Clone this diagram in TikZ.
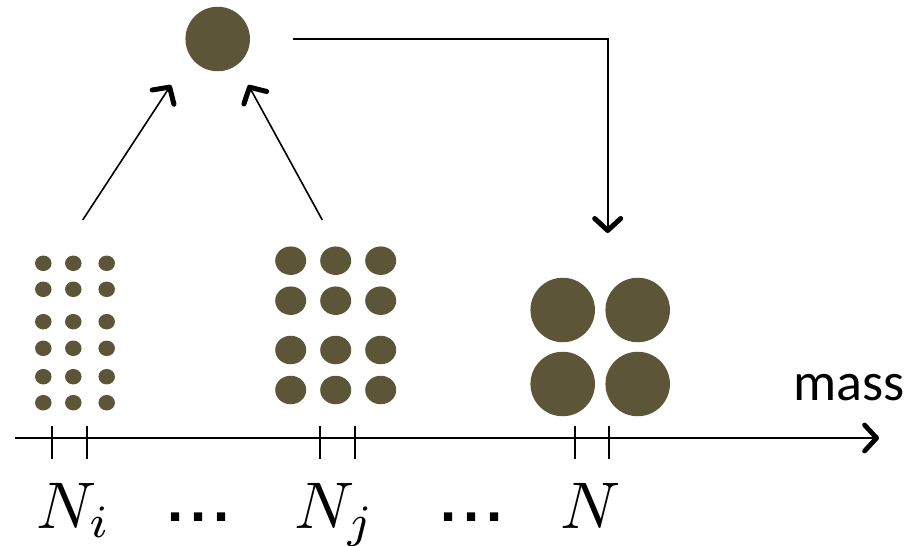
\documentclass[tikz,border=0pt]{standalone}
\usepackage{graphicx}
\usepackage{fontspec}
\setsansfont{Carlito}
\newfontfamily\dotfont{Liberation Sans}
\usetikzlibrary{arrows.meta,shapes.geometric}
\definecolor{olive}{RGB}{93,85,56}
\tikzset{
  dotS/.style={ellipse,fill=olive,inner sep=0pt,minimum width=16.5pt,minimum height=15.5pt},
  dotM/.style={ellipse,fill=olive,inner sep=0pt,minimum width=31pt,minimum height=28.5pt},
  dotL/.style={circle,fill=olive,inner sep=0pt,minimum size=64.5pt},
  conn/.style={line width=1.6pt,-{Straight Barb[length=12pt,width=26pt,line width=5pt,round]}},
  tick/.style={line width=1.5pt},
  lab/.style={inner sep=0pt},
  ell/.style={inner sep=0pt,font=\dotfont\bfseries\fontsize{58}{60}\selectfont},
}
\begin{document}
\begin{tikzpicture}[x=1pt,y=-1pt]
\useasboundingbox (0,0) rectangle (913,546);
% top circle
\node[dotL] (top) at (217.7,39) {};
% left group
\foreach \c/\x in {1/43.3,2/73.3,3/106.7}{
  \foreach \r/\y in {1/263.3,2/289.3,3/321.7,4/348.3,5/376.7,6/402.7}{
    \node[dotS] (s\c\r) at (\x,\y) {};
  }
}
% middle group
\foreach \c/\x in {1/290.7,2/335.7,3/380.7}{
  \foreach \r/\y in {1/260.7,2/300.7,3/350,4/390}{
    \node[dotM] (m\c\r) at (\x,\y) {};
  }
}
% right group
\foreach \c/\x in {1/562.7,2/637.7}{
  \foreach \r/\y in {1/310,2/384}{
    \node[dotL] (l\c\r) at (\x,\y) {};
  }
}
% arrows
\coordinate (a1s) at (82.7,220);
\coordinate (a1e) at (171,85);
\coordinate (a2s) at (322.3,220);
\coordinate (a2e) at (248.3,85);
\coordinate (e1) at (292.7,39);
\coordinate (e2) at (607.7,39);
\coordinate (e3) at (607.7,233);
\draw[conn] (a1s) -- (a1e);
\draw[conn] (a2s) -- (a2e);
\draw[conn,line join=miter] (e1) -- (e2) -- (e3);
% axis
\coordinate (ax0) at (15,438);
\coordinate (ax1) at (879,438);
\draw[line width=2.6pt,-{Straight Barb[length=12pt,width=26pt,line width=4.8pt,round]}] (ax0) -- (ax1);
\foreach \x [count=\i] in {52,87,320,355,575,609}{
  \coordinate (t\i a) at (\x,426);
  \coordinate (t\i b) at (\x,459);
  \draw[tick] (t\i a) -- (t\i b);
}
\node[font=\sffamily\fontsize{54}{58}\selectfont,anchor=base east,inner sep=0pt] (mass) at (905,400) {mass};
% labels
\node[lab,anchor=base west] (ni) at (36,528) {\scalebox{6.6}{$N_i$}};
\node[ell,anchor=base west] (d1) at (167,521) {.\kern7pt.\kern7pt.};
\node[lab,anchor=base west] (nj) at (294,528) {\scalebox{6.6}{$N_j$}};
\node[ell,anchor=base west] (d2) at (440,521) {.\kern7pt.\kern7pt.};
\node[lab,anchor=base west] (n) at (560,528) {\scalebox{6.6}{$N$}};
\end{tikzpicture}
\end{document}
